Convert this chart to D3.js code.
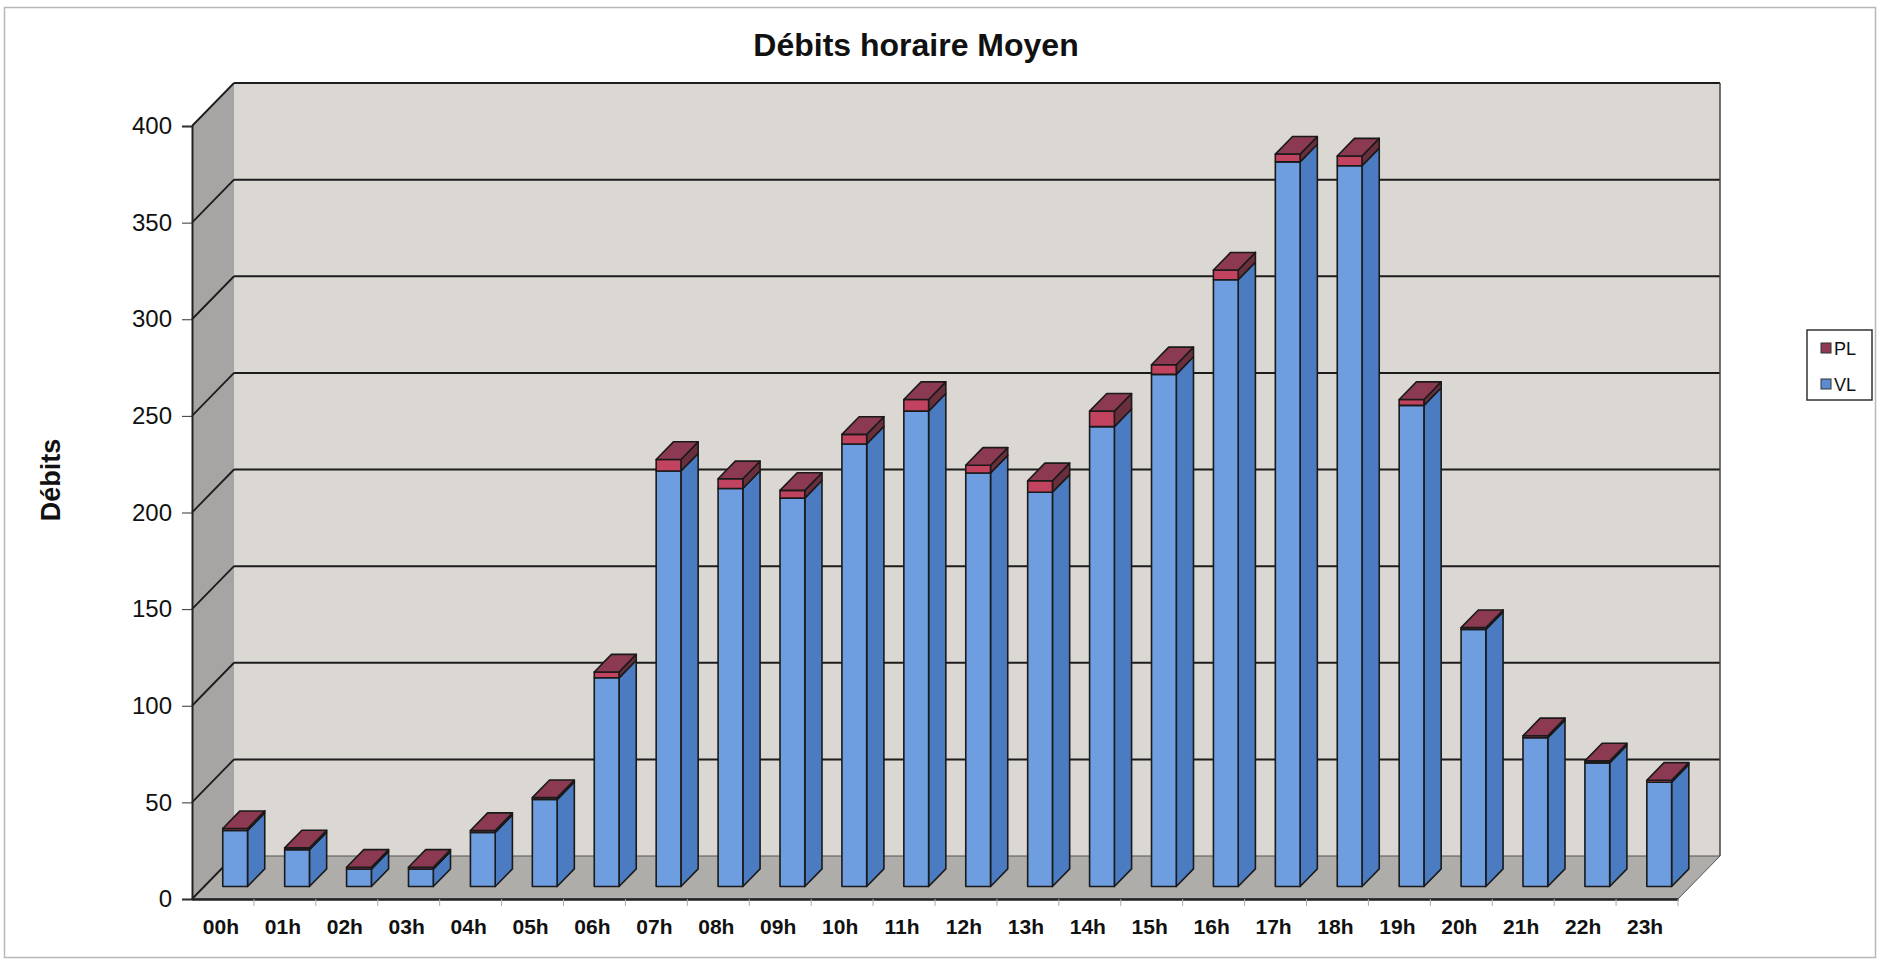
<!DOCTYPE html>
<html>
<head>
<meta charset="utf-8">
<script src="https://cdn.jsdelivr.net/npm/d3@7"></script>
<style>
  body { margin: 0; background: #fff; }
  svg { display: block; font-family: "Liberation Sans", Arial, sans-serif; }
</style>
</head>
<body>
<div id="chart"></div>
<script>
// data
var hours = ["00h","01h","02h","03h","04h","05h","06h","07h","08h","09h","10h","11h",
             "12h","13h","14h","15h","16h","17h","18h","19h","20h","21h","22h","23h"];
var vl = [29, 19, 9, 9, 28, 45, 108, 215, 206, 201, 229, 246,
          214, 204, 238, 265, 314, 375, 373, 249, 133, 77, 64, 54];
var pl = [1, 1, 1, 1, 1, 1, 3, 6, 5, 4, 5, 6,
          4, 6, 8, 5, 5, 4, 5, 3, 1, 1, 1, 1];
var yTicks = [0, 50, 100, 150, 200, 250, 300, 350, 400];
var seriesNames = ["PL", "VL"];

var width = 1880,
    height = 964;

// depth of the 3d box (oblique projection)
var depthX = 42,
    depthY = 43;

var svg = d3.select("#chart")
    .append("svg")
    .attr("width", width)
    .attr("height", height);

// outer frame
svg.append("rect")
    .attr("x", 4.5).attr("y", 7.5)
    .attr("width", 1871).attr("height", 950)
    .attr("fill", "none")
    .attr("stroke", "#b8b8b8")
    .attr("stroke-width", 1.5);

var x = d3.scaleBand()
    .domain(hours)
    .range([192, 1678])
    .paddingInner(0.6)
    .paddingOuter(0.3);

var y = d3.scaleLinear()
    .domain([0, 400])
    .range([899, 126]);

// project a point at depth z (0 = front, 1 = back)
function px(xv, z) { return xv + z * depthX; }
function py(yv, z) { return yv - z * depthY; }
function poly(pts) { return pts.map(function (p) { return p.join(","); }).join(" "); }

var x0 = x.range()[0], x1 = x.range()[1];
var yTop = y(400), yBot = y(0);

// walls
var walls = svg.append("g").attr("id", "walls");
walls.append("polygon") // back wall
    .attr("points", poly([[px(x0,1), py(yTop,1)], [px(x1,1), py(yTop,1)],
                          [px(x1,1), py(yBot,1)], [px(x0,1), py(yBot,1)]]))
    .attr("fill", "#dbd7d3");
walls.append("polygon") // side wall
    .attr("points", poly([[x0, yTop], [px(x0,1), py(yTop,1)],
                          [px(x0,1), py(yBot,1)], [x0, yBot]]))
    .attr("fill", "#a7a5a3");
walls.append("polygon") // floor
    .attr("points", poly([[x0, yBot], [x1, yBot],
                          [px(x1,1), py(yBot,1)], [px(x0,1), py(yBot,1)]]))
    .attr("fill", "#afadaa")
    .attr("stroke", "#555")
    .attr("stroke-width", 1);

// gridlines on the back and side walls
var grid = svg.append("g").attr("id", "grid");
grid.selectAll("line.back")
    .data(yTicks.filter(function (d) { return d > 0; }))
    .enter()
    .append("line")
    .attr("class", "back")
    .attr("x1", px(x0, 1)).attr("x2", px(x1, 1))
    .attr("y1", function (d) { return py(y(d), 1); })
    .attr("y2", function (d) { return py(y(d), 1); })
    .attr("stroke", "#1c1c1c")
    .attr("stroke-width", 2);
grid.selectAll("line.side")
    .data(yTicks)
    .enter()
    .append("line")
    .attr("class", "side")
    .attr("x1", x0).attr("x2", px(x0, 1))
    .attr("y1", function (d) { return y(d); })
    .attr("y2", function (d) { return py(y(d), 1); })
    .attr("stroke", "#1c1c1c")
    .attr("stroke-width", 1.8);
// back wall right edge
grid.append("line")
    .attr("x1", px(x1, 1)).attr("x2", px(x1, 1))
    .attr("y1", py(yTop, 1)).attr("y2", py(yBot, 1))
    .attr("stroke", "#444")
    .attr("stroke-width", 1.5);

// axes
var yAxis = d3.axisLeft(y).tickValues(yTicks).tickSize(10).tickPadding(10);
var gy = svg.append("g")
    .attr("transform", "translate(" + x0 + ",0)")
    .call(yAxis);
gy.select(".domain").attr("stroke", "#222").attr("stroke-width", 2);
gy.selectAll(".tick line").attr("stroke", "#333");
gy.selectAll(".tick text")
    .attr("font-family", "Liberation Sans, Arial, sans-serif")
    .attr("font-size", 24)
    .attr("fill", "#111");

var xAxis = d3.axisBottom(x).tickSize(0).tickPadding(20);
var gx = svg.append("g")
    .attr("transform", "translate(0," + yBot + ")")
    .call(xAxis);
gx.select(".domain").attr("stroke", "#222").attr("stroke-width", 2.5);
gx.selectAll(".tick text")
    .attr("font-family", "Liberation Sans, Arial, sans-serif")
    .attr("font-size", 21)
    .attr("font-weight", "bold")
    .attr("fill", "#111")
    .attr("dx", -2);
// small ticks between categories
gx.selectAll("line.sep")
    .data(hours)
    .enter()
    .append("line")
    .attr("class", "sep")
    .attr("x1", function (d) { return x(d) + x.bandwidth() + x.step() * x.paddingInner() / 2; })
    .attr("x2", function (d) { return x(d) + x.bandwidth() + x.step() * x.paddingInner() / 2; })
    .attr("y1", 0).attr("y2", 7)
    .attr("stroke", "#aaa");

// bars, stacked VL then PL
var zFront = 0.29, zBack = 0.70;
var colors = {
    VL: { front: "#6e9de0", side: "#4b7cc2", top: "#5d8bd0" },
    PL: { front: "#c1435f", side: "#6a2f3d", top: "#8b3a52" }
};

var stackData = hours.map(function (h, i) {
    return { hour: h, segs: [
        { name: "VL", y0: 0, y1: vl[i] },
        { name: "PL", y0: vl[i], y1: vl[i] + pl[i] }
    ] };
});

var bars = svg.append("g").attr("id", "bars")
    .selectAll("g")
    .data(stackData)
    .enter()
    .append("g");

bars.each(function (d) {
    var g = d3.select(this);
    var L = x(d.hour), R = x(d.hour) + x.bandwidth();
    d.segs.forEach(function (s, k) {
        var yb = y(s.y0), yt = y(s.y1);
        var c = colors[s.name];
        // side face
        g.append("polygon")
            .attr("points", poly([[px(R, zFront), py(yt, zFront)], [px(R, zBack), py(yt, zBack)],
                                  [px(R, zBack), py(yb, zBack)], [px(R, zFront), py(yb, zFront)]]))
            .attr("fill", c.side)
            .attr("stroke", "#1a1a1a").attr("stroke-width", 1.6)
            .attr("stroke-linejoin", "round");
        // front face
        g.append("polygon")
            .attr("points", poly([[px(L, zFront), py(yt, zFront)], [px(R, zFront), py(yt, zFront)],
                                  [px(R, zFront), py(yb, zFront)], [px(L, zFront), py(yb, zFront)]]))
            .attr("fill", c.front)
            .attr("stroke", "#1a1a1a").attr("stroke-width", 1.6)
            .attr("stroke-linejoin", "round");
        // top face only for the top of the stack
        if (k == d.segs.length - 1) {
            g.append("polygon")
                .attr("points", poly([[px(L, zFront), py(yt, zFront)], [px(R, zFront), py(yt, zFront)],
                                      [px(R, zBack), py(yt, zBack)], [px(L, zBack), py(yt, zBack)]]))
                .attr("fill", c.top)
                .attr("stroke", "#1a1a1a").attr("stroke-width", 1.6)
                .attr("stroke-linejoin", "round");
        }
    });
});

// title
svg.append("text")
    .attr("x", 916).attr("y", 56)
    .attr("text-anchor", "middle")
    .attr("font-size", 32)
    .attr("font-weight", "bold")
    .attr("fill", "#111")
    .text("Débits horaire Moyen");

// y axis title
svg.append("text")
    .attr("transform", "translate(60,480) rotate(-90)")
    .attr("text-anchor", "middle")
    .attr("font-size", 27)
    .attr("font-weight", "bold")
    .attr("fill", "#111")
    .text("Débits");

// legend
var legend = svg.append("g").attr("transform", "translate(1807,330)");
legend.append("rect")
    .attr("width", 65).attr("height", 70)
    .attr("fill", "#fff")
    .attr("stroke", "#333")
    .attr("stroke-width", 1.5);
var item = legend.selectAll("g.item")
    .data(seriesNames)
    .enter()
    .append("g")
    .attr("class", "item")
    .attr("transform", function (d, i) { return "translate(14," + (18 + i * 36) + ")"; });
item.append("rect")
    .attr("x", 0).attr("y", -5)
    .attr("width", 10).attr("height", 10)
    .attr("fill", function (d) { return colors[d].top; })
    .attr("stroke", "#333");
item.append("text")
    .attr("x", 13).attr("y", 7)
    .attr("font-size", 18)
    .attr("fill", "#111")
    .text(function (d) { return d; });
</script>
</body>
</html>
